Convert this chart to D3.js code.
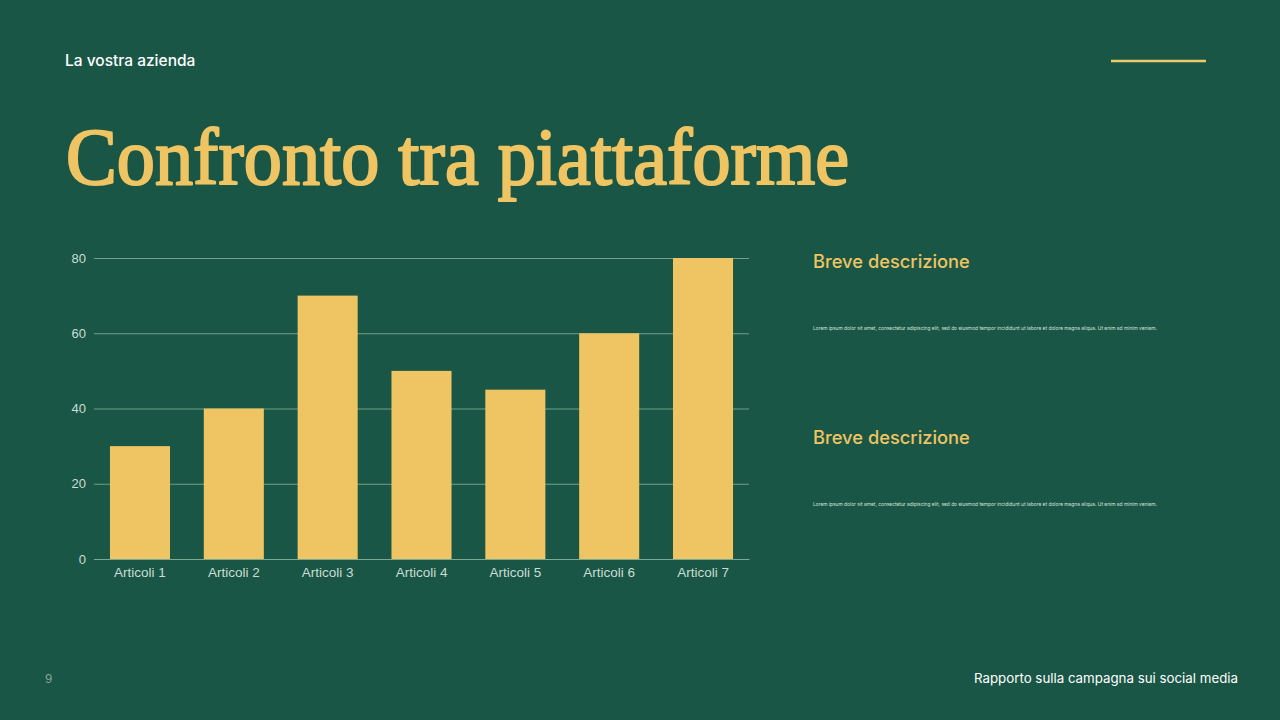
<!DOCTYPE html>
<html>
<head>
<meta charset="utf-8">
<script src="https://cdn.jsdelivr.net/npm/d3@7"></script>
<style>
  html, body { margin: 0; padding: 0; background: #1a5645; }
  svg { display: block; }
</style>
</head>
<body>
<svg id="chart"></svg>
<script>
let categories = ['Articoli 1', 'Articoli 2', 'Articoli 3', 'Articoli 4', 'Articoli 5', 'Articoli 6', 'Articoli 7']
let values = [30, 40, 70, 50, 45, 60, 80]
let yTicks = [0, 20, 40, 60, 80]

let lorem = 'Lorem ipsum dolor sit amet, consectetur adipiscing elit, sed do eiusmod tempor incididunt ut labore et dolore magna aliqua. Ut enim ad minim veniam.'

let w = 1280
let h = 720
let gold = '#efc462'

let svg = d3.select('#chart')
  .attr('width', w)
  .attr('height', h)

svg.append('rect')
  .attr('width', w)
  .attr('height', h)
  .attr('fill', '#1a5645')

// header
svg.append('text')
  .attr('x', 65).attr('y', 66)
  .attr('fill', '#ffffff')
  .attr('font-family', 'Inter, Roboto, sans-serif')
  .attr('font-weight', 500)
  .attr('font-size', 15.5)
  .text('La vostra azienda')

svg.append('line')
  .attr('x1', 1111).attr('x2', 1206)
  .attr('y1', 61).attr('y2', 61)
  .attr('stroke', '#e9ca6c')
  .attr('stroke-width', 2.5)

// title: regular serif, thickened with a stroke
svg.append('text')
  .attr('x', 66).attr('y', 184)
  .attr('fill', gold)
  .attr('stroke', gold)
  .attr('stroke-width', 2.2)
  .attr('stroke-linejoin', 'round')
  .attr('font-family', '"Liberation Serif", "DejaVu Serif", serif')
  .attr('font-size', 80)
  .attr('textLength', 783)
  .attr('lengthAdjust', 'spacingAndGlyphs')
  .text('Confronto tra piattaforme')

// chart
let pLeft = 94, pRight = 749, pTop = 258, pBottom = 559

let xScale = d3.scaleBand()
  .domain(categories)
  .range([pLeft, pRight])
  .paddingInner(0.36)
  .paddingOuter(0.17)

let yScale = d3.scaleLinear()
  .domain([0, 80])
  .range([pBottom, pTop])

let yAxis = d3.axisLeft(yScale)
  .tickValues(yTicks)
  .tickSize(-(pRight - pLeft))
  .tickPadding(8)

let gy = svg.append('g')
  .attr('transform', 'translate(' + pLeft + ',0)')
  .call(yAxis)
gy.select('.domain').remove()
gy.selectAll('.tick line')
  .attr('stroke', '#6fa08c')
  .attr('stroke-width', 1)
gy.selectAll('.tick text')
  .attr('fill', '#c9ddd4')
  .attr('font-family', '"Liberation Sans", Arial, sans-serif')
  .attr('font-size', 13)

svg.selectAll('.bar')
  .data(values)
  .enter()
  .append('rect')
  .attr('class', 'bar')
  .attr('x', (d, i) => xScale(categories[i]))
  .attr('y', (d) => yScale(d))
  .attr('width', xScale.bandwidth())
  .attr('height', (d) => pBottom - yScale(d))
  .attr('fill', gold)

let xAxis = d3.axisBottom(xScale)
  .tickSize(0)
  .tickPadding(8)

let gx = svg.append('g')
  .attr('transform', 'translate(0,' + pBottom + ')')
  .call(xAxis)
gx.select('.domain')
  .attr('stroke', '#7aa996')
gx.selectAll('.tick text')
  .attr('fill', '#c9ddd4')
  .attr('font-family', '"Liberation Sans", Arial, sans-serif')
  .attr('font-size', 13.5)

// descriptions
let descY = [268, 444]
descY.forEach((y) => {
  svg.append('text')
    .attr('x', 813).attr('y', y)
    .attr('fill', gold)
    .attr('font-family', 'Inter, Roboto, sans-serif')
    .attr('font-weight', 500)
    .attr('font-size', 18.3)
    .text('Breve descrizione')
  svg.append('text')
    .attr('x', 813).attr('y', y + 62)
    .attr('fill', '#d6e4de')
    .attr('font-family', 'Inter, Roboto, sans-serif')
    .attr('font-size', 5)
    .attr('textLength', 344)
    .attr('lengthAdjust', 'spacingAndGlyphs')
    .text(lorem)
})

// footer
svg.append('text')
  .attr('x', 45).attr('y', 683)
  .attr('fill', '#7fa595')
  .attr('font-family', '"Liberation Sans", Arial, sans-serif')
  .attr('font-size', 13)
  .text('9')

svg.append('text')
  .attr('x', 1238).attr('y', 683)
  .attr('text-anchor', 'end')
  .attr('fill', '#ffffff')
  .attr('font-family', 'Inter, Roboto, sans-serif')
  .attr('font-size', 13.3)
  .text('Rapporto sulla campagna sui social media')
</script>
</body>
</html>
